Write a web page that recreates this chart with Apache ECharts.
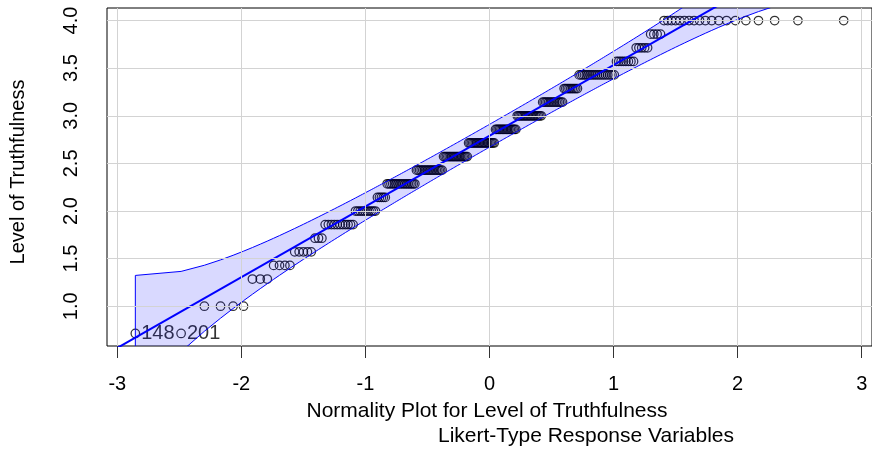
<!DOCTYPE html>
<html>
<head>
<meta charset="utf-8">
<script src="https://cdn.jsdelivr.net/npm/echarts@6/dist/echarts.min.js"></script>
<style>
  html, body { margin: 0; padding: 0; background: #fff; }
  #chart { width: 872px; height: 452px; }
</style>
</head>
<body>
<div id="chart"></div>
<script>
// Observed composite scores (steps of 1/7) and number of respondents at each score
const levels = [0.714, 1.000, 1.286, 1.429, 1.571, 1.714, 1.857, 2.000, 2.143, 2.286, 2.429,
                2.571, 2.714, 2.857, 3.000, 3.143, 3.286, 3.429, 3.571, 3.714, 3.857, 4.000];
const counts = [2, 4, 3, 4, 5, 3, 11, 10, 5, 17, 18, 18, 20, 16, 18, 14, 9, 19, 8, 5, 4, 19];

// Case numbers of the two lowest observations
const flaggedCases = ['148', '201'];

// Tick positions
const xTicks = [-3, -2, -1, 0, 1, 2, 3];
const yTicks = [1.0, 1.5, 2.0, 2.5, 3.0, 3.5, 4.0];

// Robust reference line: score = intercept + slope * normal quantile
const lineIntercept = 2.79;
const lineSlope = 0.7425;
const confLevel = 0.95;

const FONT = '"Liberation Sans", Arial, Helvetica, sans-serif';
const INK = '#000';

// Inverse standard normal CDF (Acklam's rational approximation)
function qnorm(p) {
  const a = [-3.969683028665376e+01, 2.209460984245205e+02, -2.759285104469687e+02,
             1.383577518672690e+02, -3.066479806614716e+01, 2.506628277459239e+00];
  const b = [-5.447609879822406e+01, 1.615858368580409e+02, -1.556989798598866e+02,
             6.680131188771972e+01, -1.328068155288572e+01];
  const c = [-7.784894002430293e-03, -3.223964580411365e-01, -2.400758277161838e+00,
             -2.549732539343734e+00, 4.374664141464968e+00, 2.938163982698783e+00];
  const d = [7.784695709041462e-03, 3.224671290700398e-01, 2.445134137142996e+00,
             3.754408661907416e+00];
  const pl = 0.02425, ph = 1 - pl;
  let q, r;
  if (p < pl) {
    q = Math.sqrt(-2 * Math.log(p));
    return (((((c[0]*q+c[1])*q+c[2])*q+c[3])*q+c[4])*q+c[5]) /
           ((((d[0]*q+d[1])*q+d[2])*q+d[3])*q+1);
  }
  if (p > ph) {
    q = Math.sqrt(-2 * Math.log(1 - p));
    return -(((((c[0]*q+c[1])*q+c[2])*q+c[3])*q+c[4])*q+c[5]) /
            ((((d[0]*q+d[1])*q+d[2])*q+d[3])*q+1);
  }
  q = p - 0.5; r = q * q;
  return (((((a[0]*r+a[1])*r+a[2])*r+a[3])*r+a[4])*r+a[5])*q /
         (((((b[0]*r+b[1])*r+b[2])*r+b[3])*r+b[4])*r+1);
}
function dnorm(z) { return Math.exp(-z * z / 2) / Math.sqrt(2 * Math.PI); }

// Sorted sample and its theoretical normal quantiles
const sample = [];
levels.forEach((v, i) => { for (let k = 0; k < counts[i]; k++) sample.push(v); });
const n = sample.length;
const probs = sample.map((_, i) => (i + 0.5) / n);
const zs = probs.map(qnorm);

const points = sample.map((v, i) => i < flaggedCases.length
  ? { value: [zs[i], v], label: { show: true, formatter: flaggedCases[i] } }
  : [zs[i], v]);

// Pointwise confidence envelope around the reference line
const zCrit = qnorm(1 - (1 - confLevel) / 2);
const band = zs.map((z, i) => {
  const fit = lineIntercept + lineSlope * z;
  const se = (lineSlope / dnorm(z)) * Math.sqrt(probs[i] * (1 - probs[i]) / n);
  return [z, fit - zCrit * se, fit + zCrit * se];
});

// Axis limits padded by 4% of the data range
const xPad = 0.04 * (zs[n - 1] - zs[0]);
const xMin = zs[0] - xPad, xMax = zs[n - 1] + xPad;
const yPad = 0.04 * (sample[n - 1] - sample[0]);
const yMin = sample[0] - yPad, yMax = sample[n - 1] + yPad;

const chart = echarts.init(document.getElementById('chart'), null, { renderer: 'canvas' });

const titleStyle = (text, size) => ({
  text, font: size + 'px ' + FONT, fill: INK,
  textAlign: 'center', textVerticalAlign: 'middle', align: 'center', verticalAlign: 'middle'
});

chart.setOption({
  animation: false,
  backgroundColor: '#fff',
  grid: {
    left: 107, top: 8, width: 767, height: 338,
    show: true, borderColor: '#000', borderWidth: 1, backgroundColor: 'transparent'
  },
  xAxis: {
    type: 'value', min: xMin, max: xMax,
    axisLine: { show: false },
    splitLine: { show: false },
    axisTick: { show: true, inside: false, length: 12, customValues: xTicks,
                lineStyle: { color: '#333', width: 1 } },
    axisLabel: { customValues: xTicks, margin: 28, fontSize: 20, color: INK, fontFamily: FONT }
  },
  yAxis: {
    type: 'value', min: yMin, max: yMax,
    axisLine: { show: false },
    splitLine: { show: false },
    axisTick: { show: true, inside: false, length: 12, customValues: yTicks,
                lineStyle: { color: '#333', width: 1 } },
    axisLabel: { customValues: yTicks, rotate: 90, margin: 26, fontSize: 20, color: INK,
                 fontFamily: FONT, formatter: v => Number(v).toFixed(1) }
  },
  graphic: [
    { type: 'text', x: 487, y: 411, silent: true,
      style: titleStyle('Normality Plot for Level of Truthfulness', 21) },
    { type: 'text', x: 586, y: 436, silent: true,
      style: titleStyle('Likert-Type Response Variables', 21) },
    { type: 'text', x: 18.5, y: 172, rotation: Math.PI / 2, silent: true,
      style: titleStyle('Level of Truthfulness', 20) }
  ],
  series: [
    {
      // background grid at the tick positions
      type: 'scatter', data: [], z: 1, silent: true,
      markLine: {
        silent: true, symbol: 'none', animation: false,
        label: { show: false },
        lineStyle: { color: '#d3d3d3', width: 1, type: 'solid' },
        emphasis: { disabled: true },
        data: [...xTicks.map(v => ({ xAxis: v })), ...yTicks.map(v => ({ yAxis: v }))]
      }
    },
    {
      type: 'scatter', data: points, z: 2, silent: true,
      symbol: 'circle', symbolSize: 8.5,
      itemStyle: { color: 'rgba(0,0,0,0)', borderColor: '#000', borderWidth: 1.25 },
      label: { position: 'right', distance: 1, fontSize: 20, color: INK, fontFamily: FONT },
      emphasis: { disabled: true }
    },
    {
      type: 'custom', z: 3, silent: true, clip: true,
      data: band, encode: { x: 0, y: [1, 2] },
      renderItem(params, api) {
        if (params.dataIndex !== 0) return null;
        const upper = band.map(r => api.coord([r[0], r[2]]));
        const lower = band.slice().reverse().map(r => api.coord([r[0], r[1]]));
        return {
          type: 'polygon',
          shape: { points: upper.concat(lower) },
          style: { fill: 'rgba(0,0,255,0.15)', stroke: '#0000ff', lineWidth: 1 }
        };
      }
    },
    {
      type: 'line', z: 4, silent: true, clip: true, showSymbol: false,
      data: [[xMin, lineIntercept + lineSlope * xMin], [xMax, lineIntercept + lineSlope * xMax]],
      lineStyle: { color: '#0000ff', width: 2 }
    }
  ]
});
</script>
</body>
</html>
